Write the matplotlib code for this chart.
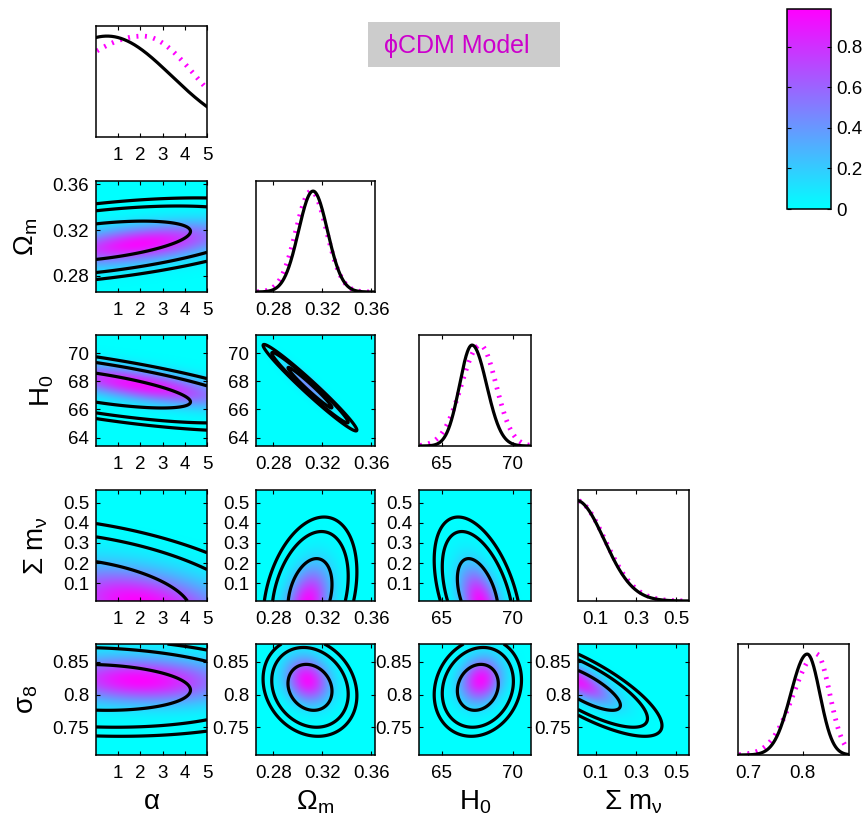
import numpy as np
import matplotlib
matplotlib.use("Agg")
import matplotlib.pyplot as plt
from matplotlib.patches import Rectangle
from matplotlib.colors import Normalize
from matplotlib.cm import ScalarMappable
from matplotlib.collections import LineCollection
from matplotlib.transforms import IdentityTransform

plt.rcParams['font.family'] = ['Liberation Sans', 'DejaVu Sans']
plt.rcParams['mathtext.fontset'] = 'custom'
plt.rcParams['mathtext.rm'] = 'Liberation Sans'
plt.rcParams['mathtext.it'] = 'Liberation Sans'
plt.rcParams['mathtext.bf'] = 'Liberation Sans:bold'

# parameters: alpha, Omega_m, H0, sum m_nu, sigma_8
labels = [r'$\alpha$', r'$\Omega_{\rm m}$', r'$H_0$', r'$\Sigma\ m_\nu$', r'$\sigma_8$']
lims = [(0.0, 5.0), (0.266, 0.363), (63.4, 71.3), (0.012, 0.563), (0.708, 0.877)]
sig8_diag_lim = (0.682, 0.884)
xticks = [[1, 2, 3, 4, 5], [0.28, 0.32, 0.36], [65, 70], [0.1, 0.3, 0.5], [0.7, 0.8]]
yticks = [[], [0.28, 0.32, 0.36], [64, 66, 68, 70], [0.1, 0.2, 0.3, 0.4, 0.5], [0.75, 0.8, 0.85]]

# marginalised posterior (contours)
post_mean = [0.0, 0.310, 67.55, 0.04, 0.811]
post_sig = [2.8, 0.0118, 0.95, 0.12, 0.023]
corr = np.array([
    [1.00, 0.50, -0.70, -0.40, -0.12],
    [0.50, 1.00, -0.98, 0.30, -0.17],
    [-0.70, -0.98, 1.00, -0.45, 0.15],
    [-0.40, 0.30, -0.45, 1.00, -0.78],
    [-0.12, -0.17, 0.15, -0.78, 1.00],
])
contour_r = [1.52, 2.64, 3.24]

# mean likelihood (shading)
like_mean = [2.0, 0.308, 67.75, 0.0, 0.822]
smooth_frac = 0.035

# 1-D curves: peak position, width below, width above
post_peak = [0.5, 0.3125, 67.14, 0.0, 0.808]
post_lo = [3.0, 0.0118, 0.88, 0.142, 0.030]
post_hi = [2.9, 0.0118, 1.03, 0.142, 0.023]
like_peak = [2.1, 0.311, 67.72, 0.0, 0.825]
like_lo = [3.65, 0.0125, 1.33, 0.146, 0.042]
like_hi = [2.38, 0.0125, 1.12, 0.146, 0.024]

W, H = 866, 821
col_x = [96, 256, 419, 578, 738]
col_w = [111, 119, 112, 111, 111]
row_y = [26, 181, 335, 490, 644]
row_h = 111

fig = plt.figure(figsize=(W / 100, H / 100), dpi=100)


def add_axes(px, py, pw, ph):
    return fig.add_axes([px / W, 1 - (py + ph) / H, pw / W, ph / H])


def fmt(v):
    return '%g' % v


def style(ax):
    ax.tick_params(direction='in', length=3, width=0.8, top=True, right=True,
                   labelsize=13.5)
    ax.tick_params(axis='x', pad=7)
    ax.tick_params(axis='y', pad=5)
    for s in ax.spines.values():
        s.set_linewidth(1.1)


def split_normal(x, peak, lo, hi):
    s = np.where(x < peak, lo, hi)
    return np.exp(-0.5 * ((x - peak) / s) ** 2)


def quad(X, Y, mx, my, sx, sy, r):
    u = (X - mx) / sx
    v = (Y - my) / sy
    return (u * u - 2 * r * u * v + v * v) / (1 - r * r)


def dotted_ticks(ax, x, y, color, step=8.5, half=2.4, lw=1.4):
    # short strokes across the curve, spaced evenly along it on screen
    pts = ax.transData.transform(np.column_stack([x, y]))
    seg = np.hypot(*np.diff(pts, axis=0).T)
    arc = np.concatenate([[0.0], np.cumsum(seg)])
    idx = np.searchsorted(arc, np.arange(2.0, arc[-1], step))
    idx = np.clip(idx, 1, len(x) - 2)
    t = pts[idx + 1] - pts[idx - 1]
    t /= np.hypot(t[:, 0], t[:, 1])[:, None]
    nrm = np.column_stack([-t[:, 1], t[:, 0]])
    p = pts[idx]
    lines = np.stack([p - half * nrm, p + half * nrm], axis=1)
    lc = LineCollection(lines, colors=color, linewidths=lw,
                        transform=IdentityTransform())
    lc.set_clip_box(ax.bbox)
    ax.add_collection(lc, autolim=False)


n = len(labels)
for i in range(n):
    for j in range(i + 1):
        ax = add_axes(col_x[j], row_y[i], col_w[j], row_h)
        style(ax)
        if i == j:
            xl = sig8_diag_lim if i == 4 else lims[i]
            ax.set_xlim(xl)
            ax.set_ylim(0, 1.1)
            ax.set_yticks([])
            x = np.linspace(xl[0], xl[1], 3000)
            dotted_ticks(ax, x, split_normal(x, like_peak[i], like_lo[i], like_hi[i]),
                         '#ff00ff')
            ax.plot(x, split_normal(x, post_peak[i], post_lo[i], post_hi[i]),
                    color='black', lw=2.3)
        else:
            xl, yl = lims[j], lims[i]
            gx = np.linspace(xl[0], xl[1], 220)
            gy = np.linspace(yl[0], yl[1], 220)
            X, Y = np.meshgrid(gx, gy)
            sx, sy, r = post_sig[j], post_sig[i], corr[i, j]
            # shading: likelihood blurred by a small kernel
            kx = smooth_frac * (xl[1] - xl[0])
            ky = smooth_frac * (yl[1] - yl[0])
            sxs, sys_ = np.hypot(sx, kx), np.hypot(sy, ky)
            rs = r * sx * sy / (sxs * sys_)
            amp = np.sqrt((sx * sy) ** 2 * (1 - r * r) / ((sxs * sys_) ** 2 * (1 - rs * rs)))
            Z = amp * np.exp(-0.5 * quad(X, Y, like_mean[j], like_mean[i], sxs, sys_, rs))
            ax.imshow(Z, extent=[xl[0], xl[1], yl[0], yl[1]], origin='lower',
                      aspect='auto', cmap='cool', vmin=0, vmax=0.985,
                      interpolation='bilinear')
            Q = quad(X, Y, post_mean[j], post_mean[i], sx, sy, r)
            ax.contour(X, Y, Q, levels=[v * v for v in contour_r], colors='black',
                       linewidths=2.3)
            ax.set_xlim(xl)
            ax.set_ylim(yl)
            ax.set_yticks(yticks[i], labels=[fmt(v) for v in yticks[i]])
            if j == 0:
                ax.set_ylabel(labels[i], fontsize=20, labelpad=9)
        ax.set_xticks(xticks[j], labels=[fmt(v) for v in xticks[j]])
        if i == n - 1 and j < n - 1:
            ax.set_xlabel(labels[j], fontsize=20, labelpad=5)

# colorbar
cax = add_axes(787, 9, 44, 200)
cb = fig.colorbar(ScalarMappable(norm=Normalize(0, 0.985), cmap='cool'), cax=cax)
cb.set_ticks([0, 0.2, 0.4, 0.6, 0.8], labels=['0', '0.2', '0.4', '0.6', '0.8'])
cax.tick_params(direction='in', length=3, width=0.8, left=True, right=True,
                labelsize=13.5, pad=4)
cb.outline.set_linewidth(1.1)

# model tag
fig.add_artist(Rectangle((368 / W, 1 - 67 / H), 192 / W, 45 / H,
                         transform=fig.transFigure, facecolor='#cccccc',
                         edgecolor='none'))
fig.text(384 / W, 1 - 46 / H, '\u03d5CDM Model', fontsize=18, color='#cc00cc',
         ha='left', va='center')

fig.savefig('out.png', dpi=100)
